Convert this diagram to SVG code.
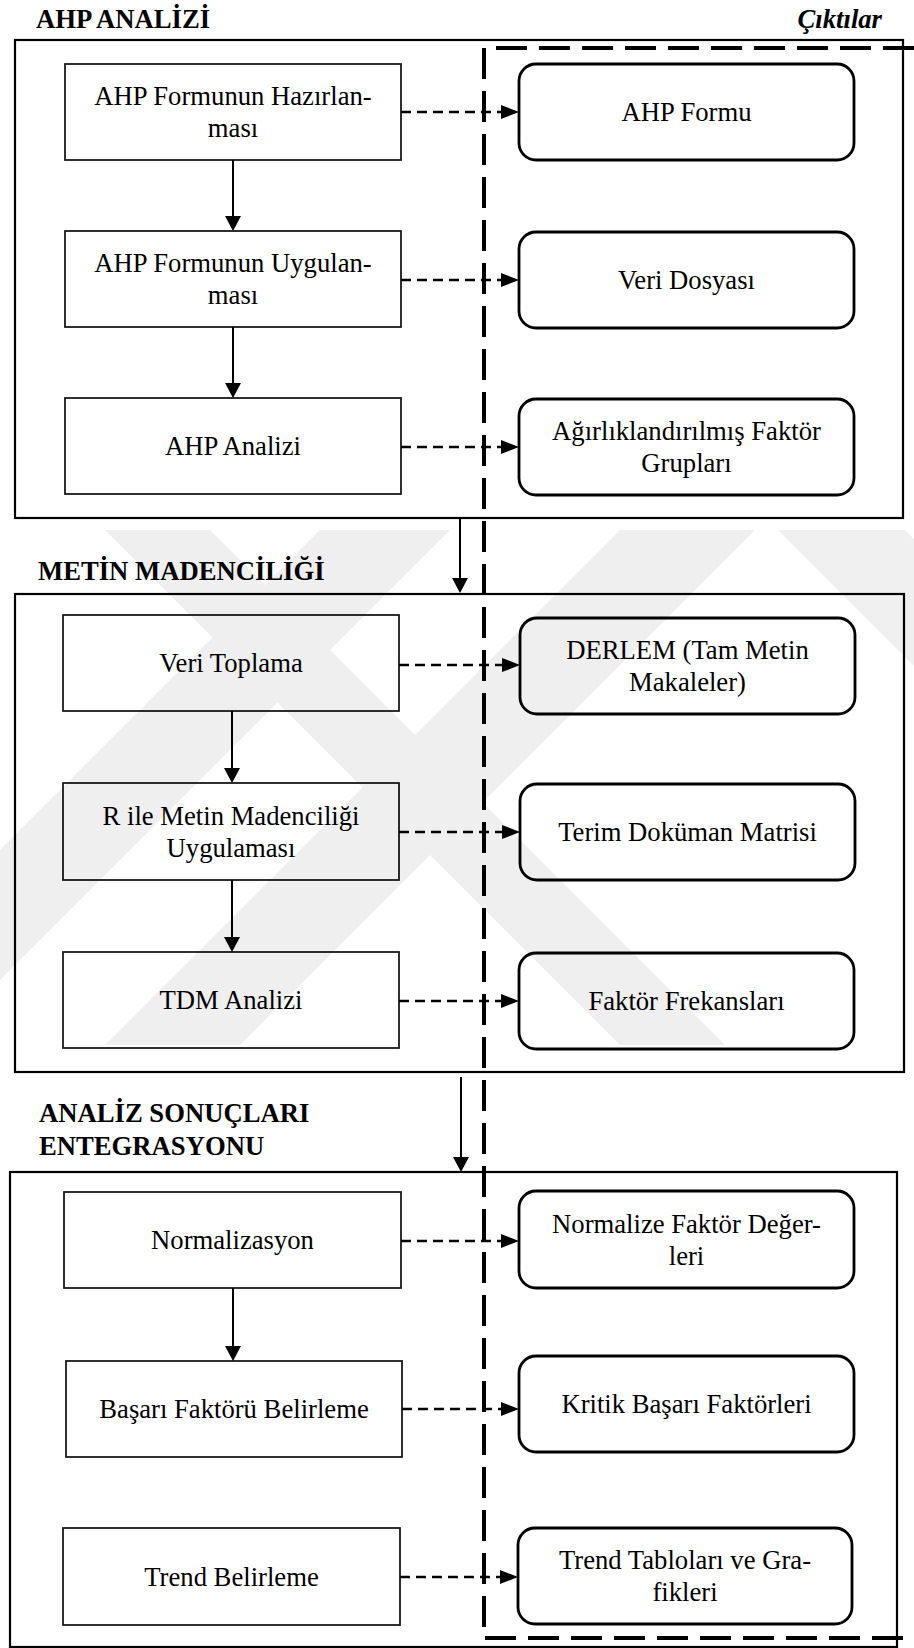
<svg xmlns="http://www.w3.org/2000/svg" width="914" height="1648" viewBox="0 0 914 1648">
  <style>
    .t { font-family: "Liberation Serif", "Times New Roman", serif; font-size: 26.67px; fill: #000; text-anchor: middle; }
    .h { font-family: "Liberation Serif", "Times New Roman", serif; font-size: 26.67px; font-weight: bold; fill: #000; }
    .hi { font-family: "Liberation Serif", "Times New Roman", serif; font-size: 26.67px; font-weight: bold; font-style: italic; fill: #000; text-anchor: end; }
    .frame { fill: none; stroke: #000; stroke-width: 2.2; }
    .step { fill: #fff; stroke: #1a1a1a; stroke-width: 1.8; }
    .out { fill: #fff; stroke: #000; stroke-width: 2.8; }
    .flow { fill: none; stroke: #000; stroke-width: 2; }
    .dflow { fill: none; stroke: #000; stroke-width: 2.6; stroke-dasharray: 10 6; }
    .zone { fill: none; stroke: #000; stroke-width: 4; stroke-dasharray: 31 12; }
  </style>
  <defs>
    <marker id="solidHead" viewBox="0 0 15 16" refX="0" refY="8" markerWidth="15" markerHeight="16" markerUnits="userSpaceOnUse" orient="auto">
      <path d="M0,0 L15,8 L0,16 z" fill="#000"/>
    </marker>
    <marker id="dashHead" viewBox="0 0 18 14" refX="0" refY="7" markerWidth="18" markerHeight="14" markerUnits="userSpaceOnUse" orient="auto">
      <path d="M0,0 L18,7 L0,14 z" fill="#000"/>
    </marker>
    <clipPath id="markClip">
      <rect x="0" y="530" width="914" height="515"/>
    </clipPath>
  </defs>

  <rect width="914" height="1648" fill="#fff"/>

  <!-- section headings -->
  <text class="h" x="36" y="28">AHP ANALİZİ</text>
  <text class="hi" x="882" y="28">Çıktılar</text>
  <text class="h" x="38" y="580">METİN MADENCİLİĞİ</text>
  <text class="h" x="39" y="1122">ANALİZ SONUÇLARI</text>
  <text class="h" x="39" y="1155">ENTEGRASYONU</text>

  <!-- section frames -->
  <g id="frame-ahp"><rect class="frame" x="15" y="40" width="888" height="478"/></g>
  <g id="frame-metin"><rect class="frame" x="15" y="594" width="889" height="478"/></g>
  <g id="frame-entegrasyon"><rect class="frame" x="10" y="1172" width="887" height="475"/></g>

  <!-- section 1: AHP -->
  <g id="ahp-hazirlama">
    <rect class="step" x="65" y="64" width="336" height="96"/>
    <text class="t" x="233" y="105">AHP Formunun Hazırlan-</text>
    <text class="t" x="233" y="137">ması</text>
  </g>
  <g id="ahp-uygulama">
    <rect class="step" x="65" y="231" width="336" height="96"/>
    <text class="t" x="233" y="272">AHP Formunun Uygulan-</text>
    <text class="t" x="233" y="304">ması</text>
  </g>
  <g id="ahp-analizi">
    <rect class="step" x="65" y="398" width="336" height="96"/>
    <text class="t" x="233" y="455">AHP Analizi</text>
  </g>
  <g id="out-ahp-formu">
    <rect class="out" x="519" y="64" width="335" height="96" rx="17"/>
    <text class="t" x="686.5" y="121">AHP Formu</text>
  </g>
  <g id="out-veri-dosyasi">
    <rect class="out" x="519" y="232" width="335" height="96" rx="17"/>
    <text class="t" x="686.5" y="289">Veri Dosyası</text>
  </g>
  <g id="out-agirliklar">
    <rect class="out" x="519" y="399" width="335" height="96" rx="17"/>
    <text class="t" x="686.5" y="440">Ağırlıklandırılmış Faktör</text>
    <text class="t" x="686.5" y="472">Grupları</text>
  </g>

  <!-- section 2: text mining -->
  <g id="veri-toplama">
    <rect class="step" x="63" y="615" width="336" height="96"/>
    <text class="t" x="231" y="672">Veri Toplama</text>
  </g>
  <g id="r-metin-madenciligi">
    <rect class="step" x="63" y="783" width="336" height="97"/>
    <text class="t" x="231" y="825">R ile Metin Madenciliği</text>
    <text class="t" x="231" y="857">Uygulaması</text>
  </g>
  <g id="tdm-analizi">
    <rect class="step" x="63" y="952" width="336" height="96"/>
    <text class="t" x="231" y="1009">TDM Analizi</text>
  </g>
  <g id="out-derlem">
    <rect class="out" x="520" y="618" width="335" height="96" rx="17"/>
    <text class="t" x="687.5" y="659">DERLEM (Tam Metin</text>
    <text class="t" x="687.5" y="691">Makaleler)</text>
  </g>
  <g id="out-tdm">
    <rect class="out" x="520" y="784" width="335" height="96" rx="17"/>
    <text class="t" x="687.5" y="841">Terim Doküman Matrisi</text>
  </g>
  <g id="out-frekanslar">
    <rect class="out" x="519" y="953" width="335" height="96" rx="17"/>
    <text class="t" x="686.5" y="1010">Faktör Frekansları</text>
  </g>

  <!-- section 3: integration -->
  <g id="normalizasyon">
    <rect class="step" x="64" y="1192" width="337" height="96"/>
    <text class="t" x="232.5" y="1249">Normalizasyon</text>
  </g>
  <g id="basari-faktoru">
    <rect class="step" x="66" y="1361" width="336" height="96"/>
    <text class="t" x="234" y="1418">Başarı Faktörü Belirleme</text>
  </g>
  <g id="trend-belirleme">
    <rect class="step" x="63" y="1528" width="337" height="97"/>
    <text class="t" x="231.5" y="1586">Trend Belirleme</text>
  </g>
  <g id="out-normalize">
    <rect class="out" x="519" y="1191" width="335" height="97" rx="17"/>
    <text class="t" x="686.5" y="1233">Normalize Faktör Değer-</text>
    <text class="t" x="686.5" y="1265">leri</text>
  </g>
  <g id="out-kritik">
    <rect class="out" x="519" y="1356" width="335" height="96" rx="17"/>
    <text class="t" x="686.5" y="1413">Kritik Başarı Faktörleri</text>
  </g>
  <g id="out-trend">
    <rect class="out" x="518" y="1528" width="334" height="96" rx="17"/>
    <text class="t" x="685" y="1569">Trend Tabloları ve Gra-</text>
    <text class="t" x="685" y="1601">fikleri</text>
  </g>

  <!-- connectors -->
  <g id="connectors">
    <line class="flow" x1="233" y1="160" x2="233" y2="216" marker-end="url(#solidHead)"/>
    <line class="flow" x1="233" y1="327" x2="233" y2="383" marker-end="url(#solidHead)"/>
    <line class="flow" x1="232" y1="711" x2="232" y2="768" marker-end="url(#solidHead)"/>
    <line class="flow" x1="232" y1="880" x2="232" y2="937" marker-end="url(#solidHead)"/>
    <line class="flow" x1="233" y1="1288" x2="233" y2="1346" marker-end="url(#solidHead)"/>
    <line class="flow" x1="460" y1="518" x2="460" y2="578" marker-end="url(#solidHead)"/>
    <line class="flow" x1="461" y1="1077" x2="461" y2="1157" marker-end="url(#solidHead)"/>

    <line class="dflow" x1="401" y1="112" x2="501" y2="112" marker-end="url(#dashHead)"/>
    <line class="dflow" x1="401" y1="280" x2="501" y2="280" marker-end="url(#dashHead)"/>
    <line class="dflow" x1="401" y1="447" x2="501" y2="447" marker-end="url(#dashHead)"/>
    <line class="dflow" x1="399" y1="665" x2="502" y2="665" marker-end="url(#dashHead)"/>
    <line class="dflow" x1="399" y1="832" x2="502" y2="832" marker-end="url(#dashHead)"/>
    <line class="dflow" x1="399" y1="1001" x2="501" y2="1001" marker-end="url(#dashHead)"/>
    <line class="dflow" x1="401" y1="1241" x2="501" y2="1241" marker-end="url(#dashHead)"/>
    <line class="dflow" x1="402" y1="1409" x2="501" y2="1409" marker-end="url(#dashHead)"/>
    <line class="dflow" x1="400" y1="1577" x2="500" y2="1577" marker-end="url(#dashHead)"/>
  </g>

  <!-- outputs zone boundary -->
  <g id="outputs-zone">
    <path class="zone" d="M914,48 H484 V1638 H914"/>
  </g>

  <!-- faint diagonal background mark -->
  <g id="background-mark" clip-path="url(#markClip)" opacity="0.06">
    <path fill="#000" d="M105,530 L210,530 L725,1045 L620,1045 Z"/>
    <path fill="#000" d="M320,530 L450,530 L-65,1045 L-195,1045 Z"/>
    <path fill="#000" d="M620,530 L755,530 L240,1045 L105,1045 Z"/>
    <path fill="#000" d="M778,530 L905,530 L1420,1045 L1293,1045 Z"/>
  </g>
</svg>
